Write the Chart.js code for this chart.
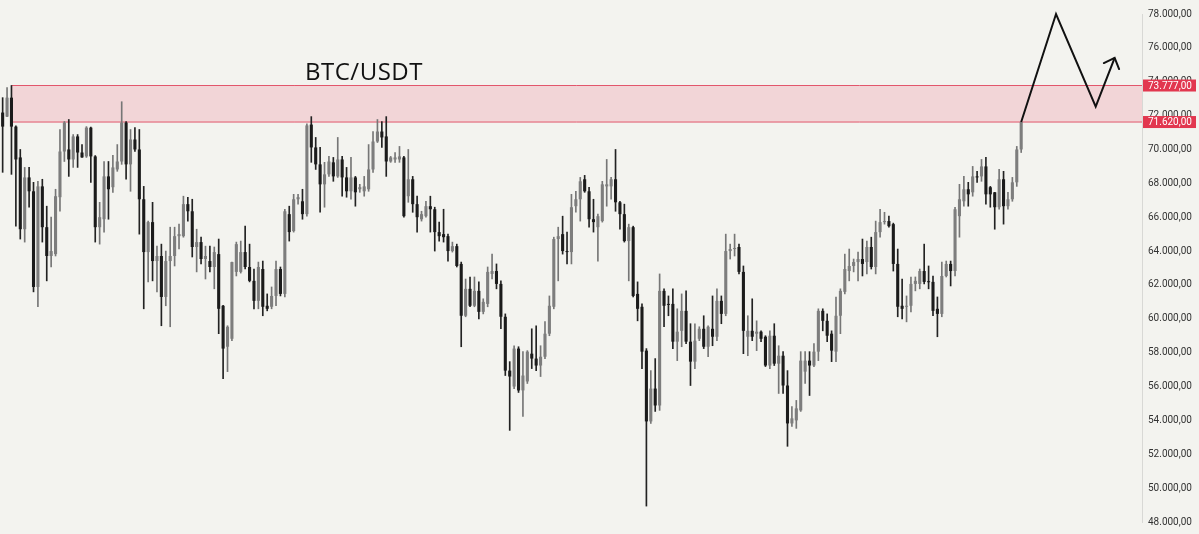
<!DOCTYPE html>
<html>
<head>
<meta charset="utf-8">
<script src="https://cdn.jsdelivr.net/npm/chart.js@4.4.1/dist/chart.umd.min.js"></script>
<style>
  html, body { margin: 0; padding: 0; background: #f3f3ef; }
  #wrap { position: relative; width: 1199px; height: 534px; }
  #title { position: absolute; left: 305px; top: 54px; font: 24px "Open Sans", sans-serif; color: #111; letter-spacing: 0.5px; }
</style>
</head>
<body>
<div id="wrap">
  <canvas id="myChart" width="1199" height="534"></canvas>
  <div id="title">BTC/USDT</div>
</div>
<script>
// velas diarias BTC/USDT
const opens = [72180,71940,73060,71350,69530,65290,68350,67530,61880,67820,65410,63710,63820,67180,69880,70000,69410,70770,69820,69590,
  71290,69590,65410,65880,68410,67770,68820,69290,71590,69120,70590,70000,67060,63940,65710,63410,63710,61290,63410,63710,
  64880,64880,66770,66350,64240,64530,63530,63410,63060,63820,60770,58350,58820,62770,62770,63940,63060,62240,61060,62940,
  60770,60710,61350,62940,61470,66180,65180,67060,66940,66180,71470,70120,69120,67940,68530,69240,68410,69410,68350,67530,
  68350,67650,67530,67650,68820,70470,71060,70770,69290,69410,69410,69530,67240,68240,66770,65880,66060,66650,66470,65120,
  65000,64880,64000,64290,63240,60180,61770,60770,61650,60410,60880,62650,62820,62060,60120,56940,56000,58240,55770,56300,
  57940,57650,57240,57760,59120,60710,64710,65000,64000,63940,66650,67060,68240,67530,65880,65410,65770,67820,67820,68240,
  66880,66180,64590,65410,61470,60710,58120,53940,55880,54880,61650,60880,60880,58650,59290,60470,58650,57470,58820,59410,
  58350,59410,58940,61060,60290,64000,64120,64240,62770,58940,59290,59120,59240,58940,57240,59000,57350,57820,56060,53820,
  54000,54590,56880,57530,57240,58060,60470,59880,59120,58060,60180,61590,62820,63120,63350,63530,63350,64240,63060,65120,
  65710,65770,65590,63240,60770,60710,60770,62060,62060,62820,62200,62180,60590,60290,62530,63240,62820,66060,66940,67650,
  67470,68410,68410,69000,67770,67470,66590,68240,66650,67060,68060,70000];
const highs = [73060,73650,73777,71400,70000,68940,68940,68060,68120,68240,66650,66000,67650,71180,71650,71770,70880,70880,70290,71350,
  71320,69640,66880,69290,69290,69650,70290,72820,71650,71180,71290,71180,67820,65770,66880,64290,64410,64000,65410,65410,
  65590,67240,67180,67060,65290,64820,64290,64290,64240,64710,60800,59590,63350,64530,64590,65470,64410,62940,63350,63410,
  61470,61880,63410,63060,66470,66650,67350,67350,67650,71520,71940,70710,70120,69240,69590,69530,70710,69590,68940,69530,
  68410,67940,68410,70290,71060,71770,71650,71940,69590,69820,70180,69600,70000,68410,67240,66350,66940,67240,66590,65710,
  66470,65000,64530,64410,63350,62350,62470,62470,62180,61180,63060,63820,63240,62240,60290,57470,58410,58350,58060,58120,
  59410,59590,58410,59830,61350,64820,65410,66060,65120,67350,67530,68350,68470,67770,67060,66180,68120,69410,68350,70000,
  66940,66770,65590,65470,62180,60880,58240,56940,57650,62650,61770,61350,61770,60590,61470,61650,59710,59710,59530,60180,
  59590,61350,61770,61350,65000,64410,65000,64410,63120,60180,61180,59880,59290,59000,59290,59710,58410,58060,56940,54820,
  55180,58060,58060,58060,58530,60590,60590,60290,59290,61290,61770,63820,64120,63530,63940,64710,64590,64820,65770,66470,
  66290,66060,65650,64120,62350,61350,62470,62470,62940,64410,63120,62530,61290,63350,63410,63410,66590,67940,68410,68060,
  69000,68710,69410,69530,67820,67470,68820,68710,67470,68350,70180,71620];
const lows = [68650,71940,68530,65470,64710,64530,66590,61590,60710,64530,62240,63060,63710,66350,69290,68410,68940,68940,69530,69530,
  68060,64530,64410,65120,65880,67470,68710,69120,68240,67530,69880,65000,60590,62180,62240,61590,59590,60770,59530,63120,
  64120,64820,65770,63650,62770,63240,62350,62770,61770,59120,56470,56880,58710,62530,62700,62940,62180,60590,60590,60180,
  60470,60590,60770,61350,61290,64590,65120,66770,65880,66060,69240,68820,66290,66590,68410,68120,68350,67240,67180,67060,
  66650,67470,67240,67530,68650,70410,70120,68410,69240,69240,69240,66000,66880,66290,65120,65770,66000,65120,64000,64590,
  64530,63410,63940,63060,58350,60120,60710,60710,60000,60290,60710,62350,61770,59410,56650,53410,55880,55650,54240,56180,
  57060,56940,56590,57650,59000,60590,62240,63820,63240,63240,66290,65770,67470,65410,65120,63410,65710,66650,67060,66350,
  65290,64530,62240,61290,59880,57060,48940,53820,54530,54590,59530,60180,58240,57530,58350,58530,56060,57060,58710,58240,
  57760,58410,58710,59710,60180,63530,63710,62650,57940,57820,58710,58120,58650,57180,57060,57240,55590,55590,52470,53650,
  53530,54530,56180,55470,57180,57530,59290,58650,57470,57470,59120,61470,62240,62770,62240,62530,62650,62940,62650,64820,
  65590,65410,62820,60120,60000,59820,60410,61650,61770,62060,61770,60180,58940,60120,62470,61940,62530,64820,66650,66650,
  67240,68060,68120,66770,66590,65290,66470,65590,66470,66940,67820,69820];
const closes = [71350,73060,71350,69410,65290,68350,67530,61880,67820,65410,63710,64000,67240,69880,71590,69410,70770,69820,69530,71290,
  69590,65410,66000,68410,67650,68940,69290,71590,69120,70590,70000,67060,63940,65710,63410,63710,61290,63410,63710,64880,
  65000,66770,66350,64240,64530,63530,63710,63060,63940,60590,58240,59530,63350,64410,63940,63060,62240,61060,63060,60710,
  60590,61350,62940,61470,66350,65120,67060,67180,66180,71420,70120,69120,67940,68530,69290,68410,69410,68350,67530,68350,
  67470,67770,67820,68820,70470,71060,70710,69290,69530,69530,69590,66060,68240,66770,66000,66180,66650,66470,65120,64880,
  64820,64000,64290,63120,60180,61770,60770,61650,60410,61000,62770,62820,62060,60120,56940,56590,58240,55770,56650,58060,
  57650,57240,57760,59120,60770,64710,64880,64000,63940,66590,67060,68120,67530,65880,65710,66060,67940,67940,68240,66880,
  66180,64590,65410,61350,60590,58060,53940,55880,54880,61650,60770,60820,58650,59240,60470,58650,57470,58710,59410,58350,
  59530,58940,61060,60290,64000,64120,64180,62770,59290,59290,58940,59240,58820,57240,59000,57350,57820,56060,53820,54120,
  54710,57530,57530,57240,58060,60470,59880,59000,58120,60180,61650,62940,63120,63350,63530,63240,64240,63060,65120,65710,
  65770,65470,63240,60710,60590,60770,62060,62240,62820,62180,62160,60470,60290,62530,63240,62820,66470,67060,67650,67350,
  68410,68350,69000,67350,67350,66590,68240,66650,67060,68060,70000,71620];

// zona de resistencia
const zoneTop = 73777;
const zoneBottom = 71620;
const zoneStart = 2;

// proyección (flecha)
const projX = [231, 238.9, 247.9, 252.2];
const projY = [71620, 78000, 72530, 75410];

// eje Y
const yMin = 48000;
const yMax = 78000;
const yStep = 2000;
const xMin = -0.6;
const xMax = 258.4;

const fmt = v => Math.round(v).toString().replace(/\B(?=(\d{3})+(?!\d))/g, '.') + ',00';

const idx = opens.map((_, i) => i);
const isUp = i => closes[i] >= opens[i];
const bodyColors = idx.map(i => isUp(i) ? '#7d7d7d' : '#1b1b1b');
const wickColors = idx.map(i => isUp(i) ? '#767676' : '#222222');

// flecha al final de la proyección
const arrowPlugin = {
  id: 'arrowHead',
  afterDatasetsDraw(chart) {
    const meta = chart.getDatasetMeta(4);
    const pts = meta.data;
    if (pts.length < 2) return;
    const a = pts[pts.length - 2], b = pts[pts.length - 1];
    const ang = Math.atan2(a.y - b.y, a.x - b.x);
    const ctx = chart.ctx;
    ctx.save();
    ctx.strokeStyle = '#111';
    ctx.lineWidth = 2;
    ctx.lineCap = 'round';
    ctx.beginPath();
    ctx.moveTo(b.x + 12 * Math.cos(ang + 0.75), b.y + 12 * Math.sin(ang + 0.75));
    ctx.lineTo(b.x, b.y);
    ctx.lineTo(b.x + 12 * Math.cos(ang - 0.75), b.y + 12 * Math.sin(ang - 0.75));
    ctx.stroke();
    ctx.restore();
  }
};

// etiquetas rojas de precio en el eje
const priceTags = {
  id: 'priceTags',
  afterDraw(chart) {
    const ctx = chart.ctx;
    const y = chart.scales.y;
    const left = chart.chartArea.right + 1;
    ctx.save();
    [zoneTop, zoneBottom].forEach(v => {
      const py = y.getPixelForValue(v);
      ctx.fillStyle = '#e2374f';
      ctx.fillRect(left, py - 6, 53, 12);
      ctx.fillStyle = '#ffffff';
      ctx.font = '10px Roboto, sans-serif';
      ctx.textBaseline = 'middle';
      ctx.textAlign = 'left';
      ctx.fillText(fmt(v), left + 5, py + 0.5);
    });
    ctx.restore();
  }
};

const ctx = document.getElementById('myChart').getContext('2d');
const myChart = new Chart(ctx, {
  type: 'bar',
  data: {
    datasets: [
      {
        label: 'zonaTop',
        type: 'line',
        data: [{x: zoneStart, y: zoneTop}, {x: xMax, y: zoneTop}],
        borderColor: '#e2566c',
        borderWidth: 1,
        pointRadius: 0,
        fill: false,
        order: 5
      },
      {
        label: 'zonaBottom',
        type: 'line',
        data: [{x: zoneStart, y: zoneBottom}, {x: xMax, y: zoneBottom}],
        borderColor: '#e2566c',
        borderWidth: 1,
        pointRadius: 0,
        fill: '-1',
        backgroundColor: 'rgba(242, 95, 120, 0.2)',
        order: 5
      },
      {
        label: 'mechas',
        data: idx.map(i => ({x: i, y: [Math.min(lows[i], opens[i], closes[i]), Math.max(highs[i], opens[i], closes[i])]})),
        backgroundColor: wickColors,
        barThickness: 1,
        grouped: false,
        order: 2
      },
      {
        label: 'cuerpos',
        data: idx.map(i => ({x: i, y: [Math.min(opens[i], closes[i]), Math.max(opens[i], closes[i])]})),
        backgroundColor: bodyColors,
        barPercentage: 0.7,
        categoryPercentage: 1,
        minBarLength: 1,
        grouped: false,
        order: 1
      },
      {
        label: 'proyeccion',
        type: 'line',
        data: projX.map((x, i) => ({x: x, y: projY[i]})),
        borderColor: '#111',
        borderWidth: 2,
        pointRadius: 0,
        tension: 0,
        fill: false,
        clip: false,
        order: 0
      }
    ]
  },
  options: {
    responsive: false,
    animation: false,
    layout: { padding: { top: 14, bottom: 10, left: 0, right: 0 } },
    plugins: { legend: { display: false }, tooltip: { enabled: false } },
    scales: {
      x: { type: 'linear', min: xMin, max: xMax, offset: false, bounds: 'ticks', display: false },
      y: {
        position: 'right',
        min: yMin,
        max: yMax,
        ticks: {
          stepSize: yStep,
          padding: 6,
          color: '#333',
          font: { size: 10, family: 'Roboto' },
          callback: v => fmt(v)
        },
        grid: { display: false, drawTicks: false },
        border: { display: true, color: '#d8d8d5' },
        afterFit: s => { s.width = 57; }
      }
    }
  },
  plugins: [arrowPlugin, priceTags]
});
</script>
</body>
</html>
